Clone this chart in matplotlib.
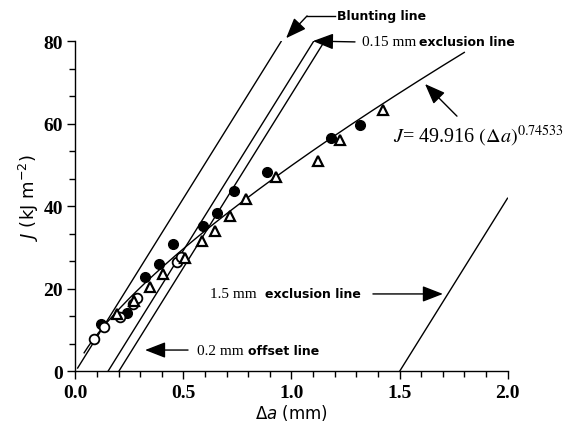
import numpy as np
import matplotlib
matplotlib.use('Agg')
from matplotlib import pyplot as plt
from matplotlib.ticker import MultipleLocator

# measured points (delta a in mm, J in kJ/m2)
filled_x = [0.117, 0.237, 0.322, 0.386, 0.450, 0.592, 0.657, 0.735, 0.888, 1.183, 1.317]
filled_y = [11.5, 14.1, 22.8, 26.1, 30.9, 35.3, 38.4, 43.7, 48.3, 56.6, 59.8]
open_x = [0.086, 0.133, 0.206, 0.268, 0.286, 0.468, 0.490]
open_y = [7.9, 10.7, 13.3, 16.4, 17.7, 26.5, 27.7]
tri_x = [0.190, 0.271, 0.345, 0.407, 0.507, 0.584, 0.646, 0.715, 0.789, 0.930, 1.124, 1.225, 1.425]
tri_y = [13.9, 17.2, 20.4, 23.6, 27.4, 31.7, 34.1, 37.6, 41.8, 47.2, 51.1, 56.1, 63.4]

# fitted power law J = C * da^m
fit_c = 49.916
fit_m = 0.74533
fit_range = [0.04, 1.80]

# construction lines (end points)
blunt_x = [0.01, 0.952]
blunt_y = [0.84, 80]
excl015_x = [0.15, 1.102]
excl015_y = [0, 80]
offset02_x = [0.20, 1.152]
offset02_y = [0, 80]
excl15_x = [1.5, 2.0]
excl15_y = [0, 42]

x_ticks = [0.0, 0.5, 1.0, 1.5, 2.0]
x_ticklabels = ['0.0', '0.5', '1.0', '1.5', '2.0']
y_ticks = [0, 20, 40, 60, 80]

fig = plt.figure(figsize=(5.68, 4.39), dpi=100)
ax = fig.add_axes([0.1329, 0.1515, 0.7606, 0.7517])

lw = 1.0
ax.plot(blunt_x, blunt_y, color='black', lw=lw)
ax.plot(excl015_x, excl015_y, color='black', lw=lw)
ax.plot(offset02_x, offset02_y, color='black', lw=lw)
ax.plot(excl15_x, excl15_y, color='black', lw=lw)

xf = np.linspace(fit_range[0], fit_range[1], 200)
ax.plot(xf, fit_c * xf ** fit_m, color='black', lw=lw)

ax.plot(filled_x, filled_y, 'o', ms=7, color='black', zorder=3)
ax.plot(open_x, open_y, 'o', ms=7, mfc='white', mec='black', mew=1.3, zorder=3)
ax.plot(tri_x, tri_y, '^', ms=7, mfc='white', mec='black', mew=1.6, zorder=3)

ax.set_xlim(0, 2.0)
ax.set_ylim(0, 80)
ax.spines['top'].set_visible(False)
ax.spines['right'].set_visible(False)
ax.spines['left'].set_linewidth(1.0)
ax.spines['bottom'].set_linewidth(1.0)

ax.set_xticks(x_ticks)
ax.set_xticklabels(x_ticklabels)
ax.set_yticks(y_ticks)
ax.xaxis.set_minor_locator(MultipleLocator(0.1))
ax.yaxis.set_minor_locator(MultipleLocator(20 / 3))
ax.tick_params(axis='both', which='major', direction='out', length=6, width=1.0, pad=3)
ax.tick_params(axis='both', which='minor', direction='out', length=4, width=1.0)
for lab in ax.get_xticklabels() + ax.get_yticklabels():
  lab.set_fontfamily('Liberation Serif')
  lab.set_fontweight('bold')
  lab.set_fontsize(14)

ax.set_xlabel(r'$\Delta a$ (mm)', fontsize=12, family='DejaVu Sans',
              math_fontfamily='dejavusans', labelpad=1)
ax.set_ylabel(r'$J$ (kJ m$^{-2}$)', fontsize=13, family='DejaVu Sans',
              math_fontfamily='dejavusans')
ax.yaxis.set_label_coords(-0.08, 0.53)

arrow = dict(arrowstyle='-|>,head_length=0.9,head_width=0.35', color='black',
             lw=1.0, mutation_scale=14, shrinkA=0, shrinkB=0)
sans = dict(family='DejaVu Sans', fontweight='bold', fontsize=9,
            ha='left', va='center', clip_on=False)
serif = dict(family='Liberation Serif', fontsize=11,
             ha='left', va='center', clip_on=False)

# Blunting line label with bent leader
ax.plot([1.072, 1.20], [86.2, 86.2], color='black', lw=1.0, clip_on=False)
ax.annotate('', xy=(0.975, 80.8), xytext=(1.072, 86.2), arrowprops=arrow,
            annotation_clip=False)
ax.text(1.21, 86.2, 'Blunting line', **sans)

# 0.15 mm exclusion line
ax.annotate('', xy=(1.099, 80.1), xytext=(1.294, 79.9), arrowprops=arrow,
            annotation_clip=False)
ax.text(1.326, 79.9, '0.15 mm', **serif)
ax.text(1.59, 79.9, 'exclusion line', **sans)

# fit label
ax.annotate('', xy=(1.618, 69.7), xytext=(1.766, 61.9), arrowprops=arrow,
            annotation_clip=False)
ax.text(1.47, 57.3, r'$J$= 49.916 $(\Delta a)^{0.74533}$', fontsize=14.5,
        family='Liberation Serif', math_fontfamily='stix',
        ha='left', va='center', clip_on=False)

# 1.5 mm exclusion line
ax.annotate('', xy=(1.701, 18.8), xytext=(1.377, 18.8), arrowprops=arrow)
ax.text(0.622, 18.8, '1.5 mm', **serif)
ax.text(0.877, 18.8, 'exclusion line', **sans)

# 0.2 mm offset line
ax.annotate('', xy=(0.322, 5.2), xytext=(0.521, 5.2), arrowprops=arrow)
ax.text(0.562, 5.2, '0.2 mm', **serif)
ax.text(0.80, 5.2, 'offset line', **sans)

plt.savefig('out.png', dpi=100)
plt.close(fig)
